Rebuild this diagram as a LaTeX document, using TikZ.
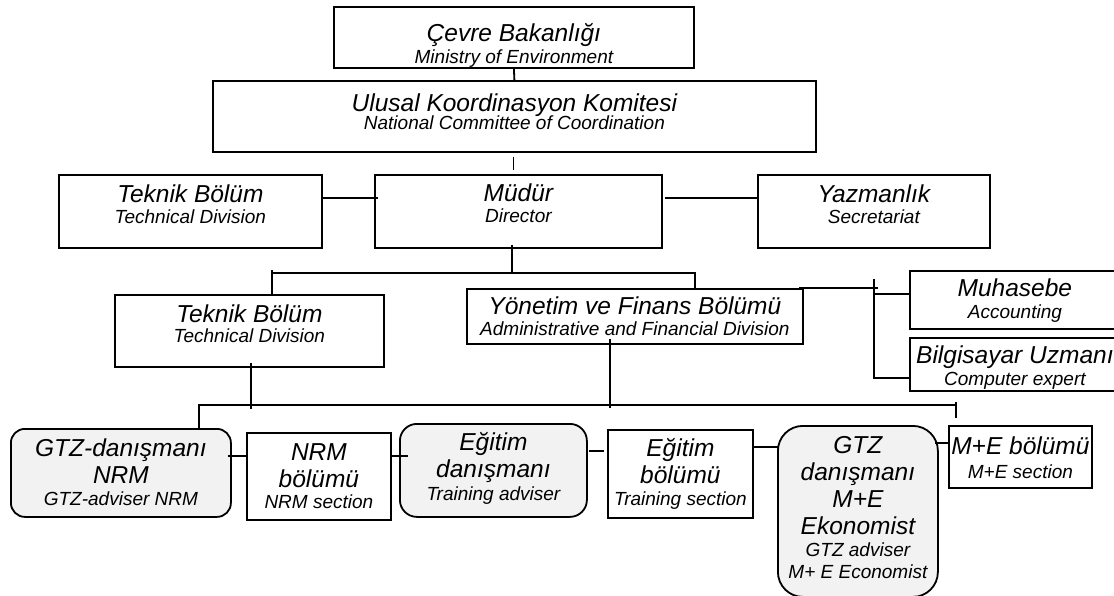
\documentclass[tikz,border=0pt]{standalone}
\usepackage{fontspec}
\setmainfont{Liberation Sans}
\usetikzlibrary{calc}
\usetikzlibrary{shapes,arrows}
\definecolor{boxgray}{HTML}{F2F2F2}
\newcommand{\eng}[1]{{\fontsize{19}{22}\selectfont #1}}

\begin{document}
\begin{tikzpicture}[x=1pt,y=-1pt,
    squarednode/.style={rectangle, draw=black, line width=1.8pt, align=center, inner sep=0pt, anchor=north west, font=\itshape\fontsize{24.5}{27}\selectfont},
    roundnode/.style={squarednode, fill=boxgray},
    link/.style={line width=1.8pt}
    ]
  \useasboundingbox (0,0) rectangle (1114,596);
  % nodes
  \node[squarednode, minimum width=360pt, text height=57pt, text depth=4pt] (Ministry) at (333,6) {Çevre Bakanlığı\\[-5pt]\eng{Ministry of Environment}};
  \node[squarednode, minimum width=603pt, text height=49pt, text depth=22pt] (Committee) at (212,80) {Ulusal Koordinasyon Komitesi\\[-9pt]\eng{National Committee of Coordination}};
  \node[squarednode, minimum width=263pt, text height=49pt, text depth=24pt] (TechDiv) at (58,174) {Teknik Bölüm\\[-6pt]\eng{Technical Division}};
  \node[squarednode, minimum width=287pt, text height=48pt, text depth=25pt] (Director) at (374,174) {Müdür\\[-6pt]\eng{Director}};
  \node[squarednode, minimum width=232pt, text height=49pt, text depth=24pt] (Secretariat) at (757,174) {Yazmanlık\\[-6pt]\eng{Secretariat}};
  \node[squarednode, minimum width=269pt, text height=48pt, text depth=24pt] (TechDivB) at (114,294) {Teknik Bölüm\\[-7pt]\eng{Technical Division}};
  \node[squarednode, minimum width=336pt, text height=47pt, text depth=8pt] (AdminFin) at (466,288) {Yönetim ve Finans Bölümü\\[-6pt]\eng{Administrative and Financial Division}};
  \node[squarednode, minimum width=210pt, text height=48pt, text depth=10pt] (Accounting) at (909,270) {Muhasebe\\[-5pt]\eng{Accounting}};
  \node[squarednode, minimum width=210pt, text height=48pt, text depth=5pt] (Computer) at (909,337) {Bilgisayar Uzmanı\\[-5pt]\eng{Computer expert}};
  \node[roundnode, rounded corners=14pt, minimum width=220pt, text height=77pt, text depth=11pt] (AdviserNRM) at (10,428) {GTZ-danışmanı\\NRM\\[-5pt]\eng{GTZ-adviser NRM}};
  \node[squarednode, minimum width=144pt, text height=76pt, text depth=11pt] (NRM) at (246,432) {NRM\\bölümü\\[-6pt]\eng{NRM section}};
  \node[roundnode, rounded corners=17pt, minimum width=187pt, text height=77pt, text depth=16pt] (AdviserTraining) at (399,423) {Eğitim\\danışmanı\\[-4pt]\eng{Training adviser}};
  \node[squarednode, minimum width=145pt, text height=76pt, text depth=12pt] (Training) at (607,429) {Eğitim\\bölümü\\[-5pt]\eng{Training section}};
  \node[roundnode, rounded corners=25pt, minimum width=160pt, text height=153pt, text depth=18pt] (AdviserME) at (777,425) {GTZ\\danışmanı\\M+E\\Ekonomist\\[-5pt]\eng{GTZ adviser}\\[-5pt]\eng{M+ E Economist}};
  \node[squarednode, minimum width=143pt, text height=53pt, text depth=9pt] (ME) at (948,425) {M+E bölümü\\[-3pt]\eng{M+E section}};
  % bus points
  \coordinate (TopBus) at (512,273);
  \coordinate (TopBusW) at (272,273);
  \coordinate (TopBusE) at (695,273);
  \coordinate (SideBus) at (874,288);
  \coordinate (LowBus) at (610,405);
  \coordinate (LowBusW) at (199,405);
  \coordinate (LowBusE) at (956,405);
  % lines
  \draw[link] (Ministry.south) -- (Committee.north);
  \draw[link] ($(Committee.south)+(-1,4)$) -- ($(Director.north -| Committee.south)+(-1,-4)$);
  \draw[link] ($(TechDiv.north east)+(0,24)$) -- ($(Director.north west)+(4,24)$);
  \draw[link] ($(Director.north east)+(2,24)$) -- ($(Secretariat.north west)+(0,24)$);
  \draw[link] ($(Director.south -| TopBus)+(0,-4)$) -- (TopBus);
  \draw[link] ($(TopBusW)+(0,-3)$) -- (TopBusW |- TechDivB.north);
  \draw[link] (TopBusW) -- (TopBusE) -- ($(TopBusE)+(0,17)$);
  \draw[link] ($(AdminFin.north east)+(-5,0)$) -- ($(SideBus)+(4,0)$);
  \draw[link] ($(SideBus)+(0,-9)$) |- ($(Computer.north west)+(0,41)$);
  \draw[link] ($(Accounting.north west)+(0,24)$) -| (SideBus);
  \draw[link] ($(AdminFin.south -| LowBus)+(0,-6)$) -- ($(LowBus)+(0,3)$);
  \draw[link] ($(TechDivB.south)+(1.5,-5)$) -- ($(TechDivB.south)+(1.5,41)$);
  \draw[link] (LowBusW |- AdviserNRM.north) -- (LowBusW) -- (LowBusE);
  \draw[link] ($(LowBusE)+(0,-3)$) -- ($(LowBusE)+(0,13)$);
  \draw[link] ($(AdviserNRM.north east)+(-4,28)$) -- ($(NRM.north west)+(0,24)$);
  \draw[link] ($(NRM.north east)+(-2,24)$) -- ($(AdviserTraining.north west)+(9,33)$);
  \draw[link] ($(AdviserTraining.north east)+(1,28)$) -- ($(Training.north west)+(-3,22)$);
  \draw[link] ($(Training.north east)+(0,18)$) -- ($(AdviserME.north west)+(1,22)$);
  \draw[link] ($(AdviserME.north east)+(-4,18)$) -- ($(ME.north west)+(0,18)$);
\end{tikzpicture}
\end{document}
